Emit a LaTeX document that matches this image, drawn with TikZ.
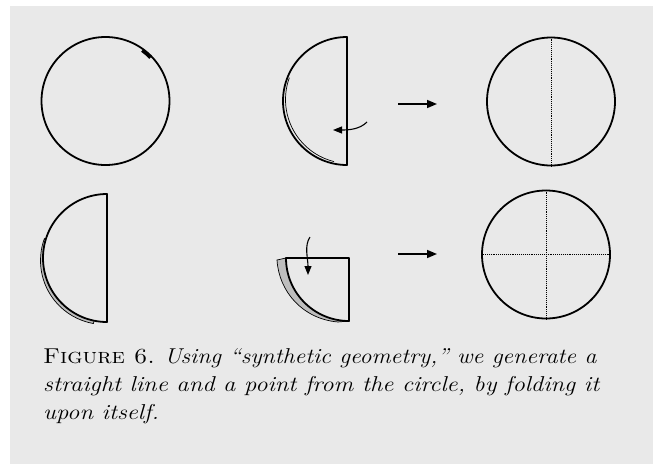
\documentclass[tikz,border=0pt]{standalone}
\usetikzlibrary{arrows.meta,calc}
\definecolor{paper}{HTML}{E9E9E9}
\definecolor{shade}{HTML}{BEBEBE}
\tikzset{
  ink/.style={line width=1.8pt, black, line join=round},
  thinink/.style={line width=0.7pt, black},
  fold/.style={densely dotted, line width=0.9pt},
  disc/.style={circle, draw, line width=1.8pt, minimum size=128pt, inner sep=0pt},
  moveto/.style={-{Triangle[length=10pt,width=8pt]}, line width=1.6pt},
  curlarrow/.style={-{Triangle[length=9pt,width=7pt]}, line width=1.1pt},
  captxt/.style={anchor=base west, inner sep=0pt, font=\fontsize{21.5}{25}\selectfont}
}
\begin{document}
\begin{tikzpicture}[x=1pt,y=-1pt]
\useasboundingbox (0,0) rectangle (659,464);
\fill[white] (0,0) rectangle (659,464);
\fill[paper] (10,6) rectangle (653,464);

% ---- row 1, circle
\node[disc] (c1) at (105.5,101) {};
\draw[line width=3.6pt] ([shift={(-54:62.6)}]c1.center) arc (-54:-44:62.6);

% ---- row 1, half circle folded
\coordinate (h1c) at (347,101);
\draw[ink, fill=paper] (347,37) arc (270:90:64) -- cycle;
\draw[thinink] ($(h1c)+(2.5,-1.5)+(200:64)$) arc (200:104:64);
\coordinate (k1s) at (367,122);
\coordinate (k1e) at (333,130);
\draw[curlarrow] (k1s) .. controls (360,129) and (350,130) .. (k1e);

% ---- row 1, arrow and result
\coordinate (a1s) at (398,104);
\coordinate (a1e) at (437,104);
\draw[moveto] (a1s) -- (a1e);
\node[disc] (c3) at (551,101.5) {};
\draw[fold] (c3.north) -- (c3.south);

% ---- row 2, half disc
\coordinate (h2c) at (107,258);
\draw[thinink, fill=shade] ($(h2c)+(-2.5,2.5)+(200:64)$) arc (200:100:64) -- (100,300) -- cycle;
\draw[ink, fill=paper] (107,194) arc (270:90:64) -- cycle;

% ---- row 2, quarter disc
\draw[thinink, fill=shade] (277,260) .. controls (279,292) and (303,319) .. (338,322) -- (349,321) -- (349,258) -- (286,258) -- cycle;
\draw[ink, fill=paper] (286,258) -- (349,258) -- (349,321) arc (90:180:63) -- cycle;
\coordinate (k2s) at (310,237);
\coordinate (k2e) at (308,275);
\draw[curlarrow] (k2s) .. controls (304,246) and (308,258) .. (k2e);

% ---- row 2, arrow and result
\coordinate (a2s) at (398,254);
\coordinate (a2e) at (437,254);
\draw[moveto] (a2s) -- (a2e);
\node[disc] (c4) at (546,254.5) {};
\draw[fold] (c4.north) -- (c4.south);
\draw[fold] (c4.west) -- (c4.east);

% ---- caption
\node[captxt] (cap1) at (43,363) {\scalebox{1.11}[1]{\textsc{Figure 6.} \textit{Using ``synthetic geometry,'' we generate a}}};
\node[captxt] (cap2) at (43,391) {\scalebox{1.145}[1]{\textit{straight line and a point from the circle, by folding it}}};
\node[captxt] (cap3) at (43,419) {\scalebox{1.145}[1]{\textit{upon itself.}}};
\end{tikzpicture}
\end{document}
